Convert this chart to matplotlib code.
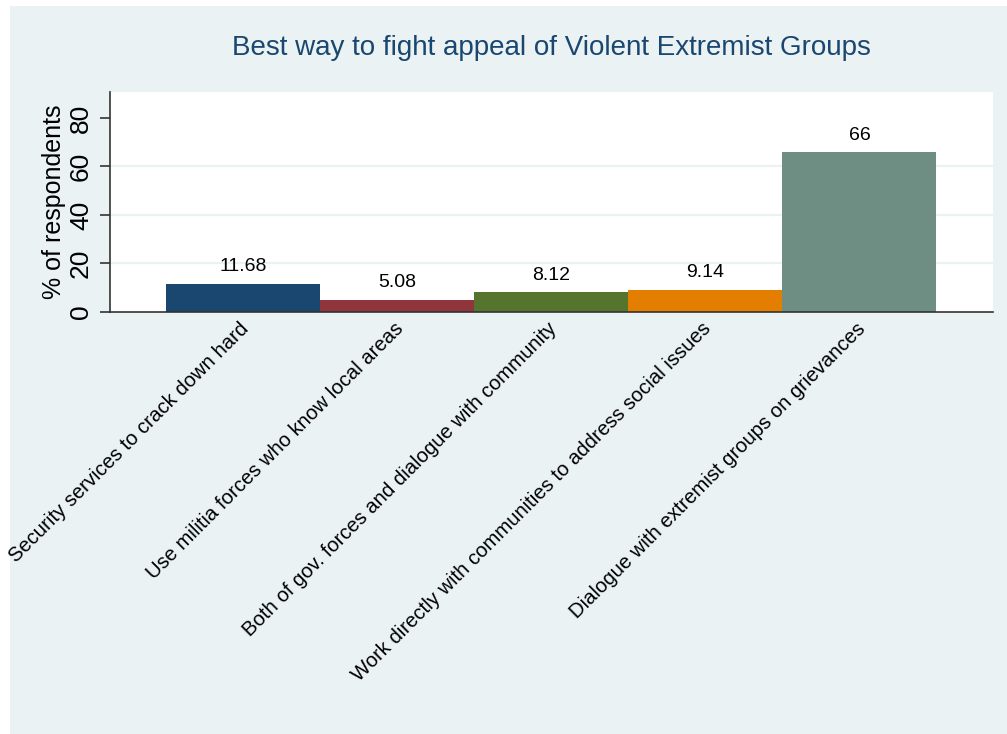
import matplotlib.pyplot as plt
import matplotlib.transforms as mtrans
from matplotlib.patches import Rectangle

categories = [
    "Security services to crack down hard",
    "Use militia forces who know local areas",
    "Both of gov. forces and dialogue with community",
    "Work directly with communities to address social issues",
    "Dialogue with extremist groups on grievances",
]
values = [11.68, 5.08, 8.12, 9.14, 66]
value_labels = ["11.68", "5.08", "8.12", "9.14", "66"]
bar_colors = ["#1A476F", "#90353B", "#55752F", "#E37E00", "#6E8E84"]
y_ticks = [0, 20, 40, 60, 80]
grid_lines = [20, 40, 60]

plt.rcParams['font.family'] = ['Liberation Sans', 'DejaVu Sans']

W, H = 1007, 734
fig = plt.figure(figsize=(W / 100, H / 100), dpi=100, facecolor='white')

# Stata-style background panel
fig.patches.append(Rectangle((10 / W, 0), (W - 10) / W, (H - 6) / H,
                             transform=fig.transFigure, facecolor='#EAF2F3',
                             edgecolor='none', zorder=-1))

ax = fig.add_axes([110 / W, (H - 312) / H, (993 - 110) / W, (312 - 92) / H])
ax.set_facecolor('white')

x = range(len(categories))
ax.bar(x, values, width=1.0, color=bar_colors, edgecolor='none', zorder=2)
for xi, v, lab in zip(x, values, value_labels):
    ax.annotate(lab, (xi, v), xytext=(0, 6), textcoords='offset points',
                ha='center', va='bottom', fontsize=14, color='black')

for g in grid_lines:
    ax.axhline(g, color='#EAF2F3', lw=1.6, zorder=1)

ax.set_xlim(-0.864, 4.867)
ax.set_ylim(0, 90.7)
ax.set_yticks(y_ticks)
ax.set_yticklabels([str(t) for t in y_ticks], rotation=90, va='center', fontsize=19)
ax.tick_params(axis='y', length=7.2, width=1.2, color='#333333', pad=5)
ax.set_xticks(list(x))
ax.set_xticklabels(categories, rotation=45, ha='right', va='center',
                   rotation_mode='anchor', fontsize=14.6)
ax.tick_params(axis='x', length=0, pad=10)
# nudge the rotated labels slightly right, as in the reference
shift = mtrans.ScaledTranslation(3 / 100, 0, fig.dpi_scale_trans)
for t in ax.get_xticklabels():
    t.set_transform(t.get_transform() + shift)

for side in ['top', 'right']:
    ax.spines[side].set_visible(False)
for side in ['left', 'bottom']:
    ax.spines[side].set_color('#333333')
    ax.spines[side].set_linewidth(1.2)

ax.set_ylabel('% of respondents', fontsize=18, labelpad=2)
fig.text(551 / W, 1 - 48 / H, 'Best way to fight appeal of Violent Extremist Groups',
         ha='center', va='center', fontsize=20, color='#1A476F')

fig.savefig('out.png', dpi=100)
